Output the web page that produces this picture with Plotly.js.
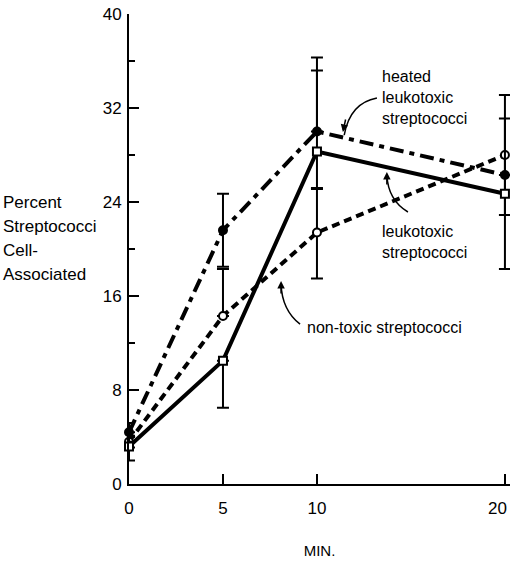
<!DOCTYPE html>
<html>
<head>
<meta charset="utf-8">
<script src="https://cdn.plot.ly/plotly-3.0.1.min.js"></script>
<style>html,body{margin:0;padding:0;background:#fff;}#chart{width:510px;height:562px;}</style>
</head>
<body>
<div id="chart"></div>
<script>
// ---- data ----
var minutes = [0, 5, 10, 20];
var heatedValues = [4.4, 21.6, 30.0, 26.3];
var heatedErrPlus = [0.8, 3.1, 6.3, 0];
var heatedErrMinus = [0.8, 3.1, 0, 0];
var leukoValues = [3.2, 10.5, 28.3, 24.7];
var leukoErrPlus = [1.2, 0, 6.9, 6.4];
var leukoErrMinus = [1.2, 4.0, 3.2, 6.4];
var nontoxValues = [3.6, 14.3, 21.4, 28.0];
var nontoxErrPlus = [0.5, 4.0, 3.8, 5.1];
var nontoxErrMinus = [0.5, 0, 3.9, 5.1];
var xTicks = [0, 5, 10, 20];
var xTickLabels = ['0', '5', '10', '20'];
var yTicks = [0, 8, 16, 24, 32, 40];
var yTitleLines = ["Percent", "Streptococci", "Cell-", "Associated"];

var FONT = "Liberation Sans, Arial, sans-serif";

function series(name, y, ep, em, dash, symbol, fill) {
  return {
    x: minutes, y: y, name: name, type: 'scatter', mode: 'lines+markers',
    line: {color: '#000', width: 4, dash: dash},
    marker: {symbol: symbol, size: 8, color: fill, line: {color: '#000', width: 2}},
    error_y: {type: 'data', symmetric: false, array: ep, arrayminus: em,
              color: '#000', thickness: 2, width: 6},
    cliponaxis: false
  };
}

var traces = [
  series('non-toxic streptococci', nontoxValues, nontoxErrPlus, nontoxErrMinus, '8px,5px', 'circle', '#fff'),
  series('leukotoxic streptococci', leukoValues, leukoErrPlus, leukoErrMinus, 'solid', 'square', '#fff'),
  series('heated leukotoxic streptococci', heatedValues, heatedErrPlus, heatedErrMinus, '14px,6px,5px,6px', 'circle', '#000')
];

var annotations = [
  {x: 13.35, y: 35.6, xanchor: 'left', yanchor: 'top', align: 'left', showarrow: false,
   text: 'heated<br>leukotoxic<br>streptococci', font: {size: 16, color: '#000', family: FONT}},
  {x: 13.35, y: 22.4, xanchor: 'left', yanchor: 'top', align: 'left', showarrow: false,
   text: 'leukotoxic<br>streptococci', font: {size: 16, color: '#000', family: FONT}},
  {x: 9.35, y: 13.3, xanchor: 'left', yanchor: 'middle', align: 'left', showarrow: false,
   text: 'non-toxic streptococci', font: {size: 16, color: '#000', family: FONT}},
  // arrow heads
  {x: 11.38, y: 29.96, text: '', showarrow: true, arrowhead: 2, arrowsize: 1, arrowwidth: 1.5,
   arrowcolor: '#000', ax: 3, ay: -14},
  {x: 13.72, y: 26.55, text: '', showarrow: true, arrowhead: 2, arrowsize: 1, arrowwidth: 1.5,
   arrowcolor: '#000', ax: 0, ay: 14},
  {x: 8.09, y: 17.28, text: '', showarrow: true, arrowhead: 2, arrowsize: 1, arrowwidth: 1.5,
   arrowcolor: '#000', ax: 0, ay: 14},
  // last x tick label, nudged left so it stays inside the figure as in the reference
  {x: xTicks[3], xref: 'x', yref: 'paper', y: 0, yanchor: 'top', xanchor: 'right', xshift: 4, yshift: -13,
   showarrow: false, text: xTickLabels[3], font: {size: 17, color: '#000', family: FONT}}
];

yTitleLines.forEach(function (t, i) {
  annotations.push({xref: 'paper', yref: 'paper', x: -0.336, y: (484 - (202 + 24 * i)) / 470,
    xanchor: 'left', yanchor: 'middle', showarrow: false, text: t,
    font: {size: 17, color: '#000', family: FONT}});
});

var shapes = [
  {type: 'path', path: 'M 13.19 32.85 Q 11.76 32.43 11.45 29.7', line: {color: '#000', width: 1.5}},
  {type: 'path', path: 'M 14.84 23.15 Q 13.78 24.17 13.72 26.3', line: {color: '#000', width: 1.5}},
  {type: 'path', path: 'M 9.1 13.6 Q 8.14 14.8 8.09 17.0', line: {color: '#000', width: 1.5}}
];

var layout = {
  width: 510, height: 562,
  margin: {l: 129, r: 0, t: 14, b: 78},
  paper_bgcolor: '#fff', plot_bgcolor: '#fff',
  showlegend: false,
  font: {family: FONT, color: '#000', size: 17},
  xaxis: {
    range: [0, 20.27], tickvals: xTicks, ticktext: ['0', '5', '10', ''],
    showline: true, linecolor: '#000', linewidth: 2, showgrid: false, zeroline: false,
    ticks: 'inside', ticklen: 10, tickwidth: 2, tickcolor: '#000',
    ticklabelstandoff: 8,
    tickfont: {size: 17, color: '#000', family: FONT},
    title: {text: 'MIN.', font: {size: 15, color: '#000', family: FONT}, standoff: 28}
  },
  yaxis: {
    range: [0, 40], tickvals: yTicks, ticktext: yTicks.map(String),
    showline: true, linecolor: '#000', linewidth: 2, showgrid: false, zeroline: false,
    ticks: 'inside', ticklen: 10, tickwidth: 2, tickcolor: '#000',
    minor: {dtick: 4, tick0: 0, ticks: 'inside', ticklen: 6, tickwidth: 2, tickcolor: '#000', showgrid: false},
    ticklabelstandoff: 2,
    tickfont: {size: 17, color: '#000', family: FONT}
  },
  annotations: annotations,
  shapes: shapes
};

Plotly.newPlot('chart', traces, layout, {displayModeBar: false, staticPlot: true});
</script>
</body>
</html>
